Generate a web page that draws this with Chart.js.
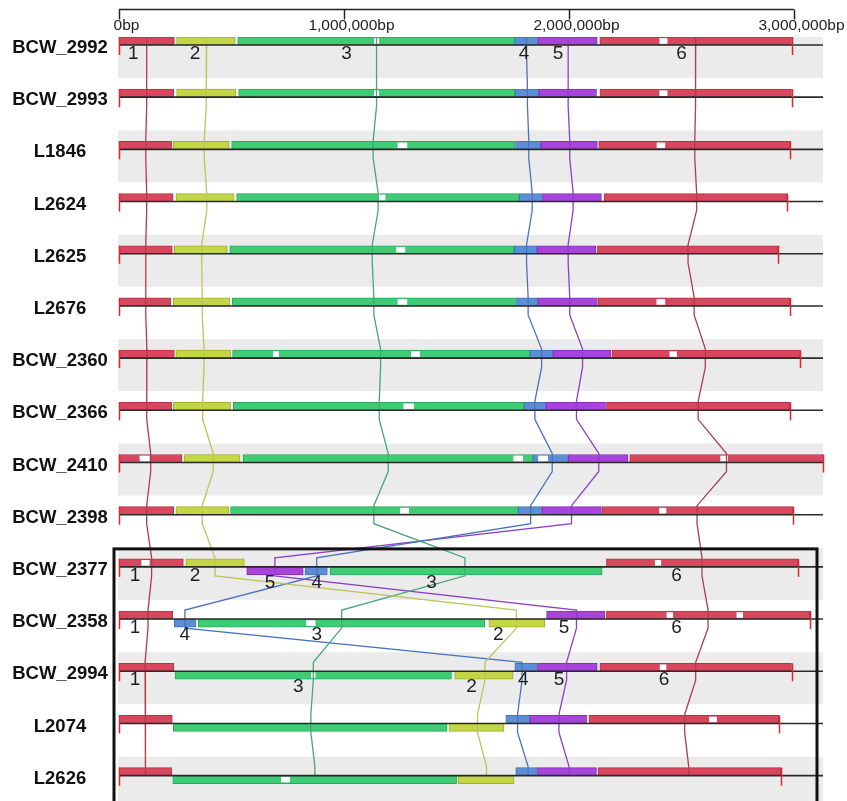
<!DOCTYPE html>
<html>
<head>
<meta charset="utf-8">
<title>LCB alignment</title>
<script src="https://cdn.jsdelivr.net/npm/chart.js@4.4.1/dist/chart.umd.min.js"></script>
<style>
  html, body { margin: 0; padding: 0; background: #fff; }
</style>
</head>
<body>
<canvas id="lcbChart" width="847" height="801"></canvas>
<script>
const GENOMES = ['BCW_2992', 'BCW_2993', 'L1846', 'L2624', 'L2625', 'L2676', 'BCW_2360', 'BCW_2366',
  'BCW_2410', 'BCW_2398', 'BCW_2377', 'BCW_2358', 'BCW_2994', 'L2074', 'L2626'];
const GENOME_KBP = [2990, 2990, 2985, 2970, 2930, 2982, 3026, 2982, 3128, 2997, 3019, 3071, 2990, 2933, 2942];

// block start / end in kbp, one row per genome, columns are LCB 1..6
const BLOCK_START = [
  [0, 256, 528, 1760, 1863, 2138],
  [0, 256, 532, 1760, 1867, 2138],
  [0, 241, 501, 1763, 1875, 2133],
  [0, 253, 523, 1779, 1883, 2157],
  [0, 246, 493, 1757, 1859, 2127],
  [0, 241, 504, 1768, 1863, 2130],
  [0, 253, 505, 1827, 1930, 2192],
  [0, 241, 508, 1801, 1898, 2167],
  [0, 290, 552, 1841, 1997, 2271],
  [0, 253, 496, 1775, 1881, 2148],
  [0, 298, 938, 827, 568, 2167],
  [0, 1644, 352, 246, 1901, 2167],
  [0, 1493, 249, 1760, 1861, 2138],
  [0, 1467, 241, 1720, 1827, 2089],
  [0, 1508, 239, 1764, 1861, 2130]
];
const BLOCK_END = [
  [246, 516, 1760, 1863, 2126, 2990],
  [244, 520, 1760, 1867, 2123, 2990],
  [234, 490, 1760, 1875, 2127, 2985],
  [241, 512, 1779, 1883, 2145, 2970],
  [237, 481, 1757, 1859, 2120, 2930],
  [231, 493, 1767, 1863, 2127, 2982],
  [246, 496, 1827, 1930, 2187, 3026],
  [234, 496, 1801, 1898, 2163, 2982],
  [279, 538, 1841, 1997, 2263, 3128],
  [244, 489, 1775, 1881, 2145, 2997],
  [286, 557, 2148, 926, 819, 3019],
  [239, 1893, 1627, 342, 2160, 3071],
  [244, 1752, 1478, 1861, 2126, 2990],
  [237, 1712, 1459, 1827, 2079, 2933],
  [234, 1757, 1501, 1861, 2123, 2942]
];
// 1 = forward (above the genome line), -1 = reverse (below)
const STRAND = [
  [1, 1, 1, 1, 1, 1], [1, 1, 1, 1, 1, 1], [1, 1, 1, 1, 1, 1], [1, 1, 1, 1, 1, 1],
  [1, 1, 1, 1, 1, 1], [1, 1, 1, 1, 1, 1], [1, 1, 1, 1, 1, 1], [1, 1, 1, 1, 1, 1],
  [1, 1, 1, 1, 1, 1], [1, 1, 1, 1, 1, 1],
  [1, 1, -1, -1, -1, 1],
  [1, -1, -1, -1, 1, 1],
  [1, -1, -1, 1, 1, 1],
  [1, -1, -1, 1, 1, 1],
  [1, -1, -1, 1, 1, 1]
];

// where each LCB's connecting line crosses each genome (kbp)
const LINK_LCB1 = [123, 123, 119, 123, 119, 119, 124, 123, 141, 123, 145, 129, 116, 120, 116];
const LINK_LCB2 = [390, 387, 379, 390, 368, 370, 378, 372, 419, 370, 427, 1767, 1627, 1594, 1634];
const LINK_LCB3 = [1145, 1145, 1130, 1152, 1126, 1133, 1163, 1157, 1197, 1133, 1538, 990, 864, 853, 871];
const LINK_LCB4 = [1812, 1816, 1822, 1837, 1812, 1819, 1879, 1849, 1926, 1830, 879, 293, 1792, 1772, 1819];
const LINK_LCB5 = [1997, 1997, 2004, 2019, 1997, 2004, 2061, 2034, 2133, 2012, 693, 2034, 1990, 1956, 2001];
const LINK_LCB6 = [2564, 2563, 2560, 2568, 2530, 2557, 2607, 2575, 2701, 2570, 2592, 2619, 2564, 2515, 2533];

// unaligned gaps inside blocks (white), kbp
const GAP_ROW = [0, 0, 1, 1, 2, 2, 3, 4, 5, 5, 6, 6, 6, 7, 8, 8, 8, 8, 9, 9, 10, 10, 11, 11, 11, 12, 12, 13, 14];
const GAP_START = [1135, 2404, 1135, 2404, 1240, 2392, 1155, 1234, 1240, 2391, 686, 1300, 2449, 1266,
  93, 1755, 1865, 2675, 1251, 2403, 101, 2384, 833, 2436, 2747, 855, 2406, 2625, 722];
const GAP_END = [1155, 2437, 1155, 2437, 1280, 2427, 1183, 1271, 1280, 2427, 710, 1336, 2479, 1310,
  135, 1795, 1906, 2706, 1288, 2432, 135, 2409, 872, 2462, 2773, 872, 2432, 2657, 758];

// LCB number labels (kbp, in LCB order 1..6) on four genomes
const LABEL_ROWS = [0, 10, 11, 12];
const LABEL_KBP = [
  [64, 338, 1012, 1801, 1952, 2501],
  [71, 338, 1390, 879, 671, 2479],
  [71, 1686, 879, 293, 1979, 2479],
  [71, 1567, 797, 1797, 1956, 2423]
];

const AXIS_TICKS = [0, 1000000, 2000000, 3000000];
const AXIS_LABELS = ['0bp', '1,000,000bp', '2,000,000bp', '3,000,000bp'];
const BOXED_ROW = 10;

const LCB_FILL = ['#d8475d', '#c3d646', '#3ecd74', '#5b8ed6', '#a843dc', '#d8475d'];
const LCB_EDGE = ['#b03446', '#9fb030', '#2ea45c', '#4473b8', '#8530b6', '#b03446'];
const LCB_LINE = ['#b23c4c', '#bcc55c', '#47a77a', '#4a72c2', '#8c3fc8', '#a9404f'];

const KBP = 1000;
const X_MAX = 3130000;
const Y_MIN = -0.153;
const Y_MAX = 14.486;
const PLOT_TOP = 37;
const PX_PER_ROW = (801 - PLOT_TOP) / (Y_MAX - Y_MIN);
const HALF_BAR = 4 / PX_PER_ROW;
const LINK_DY = 9 / PX_PER_ROW;

const LINKS = [LINK_LCB1, LINK_LCB2, LINK_LCB3, LINK_LCB4, LINK_LCB5, LINK_LCB6];

const blockData = [];
const blockFill = [];
const blockEdge = [];
GENOMES.forEach((name, r) => {
  for (let k = 0; k < 6; k += 1) {
    blockData.push({
      x: [BLOCK_START[r][k] * KBP, BLOCK_END[r][k] * KBP],
      y: r - STRAND[r][k] * HALF_BAR
    });
    blockFill.push(LCB_FILL[k]);
    blockEdge.push(LCB_EDGE[k]);
  }
});

function strandAt(r, kbp) {
  for (let k = 0; k < 6; k += 1) {
    if (kbp >= BLOCK_START[r][k] && kbp <= BLOCK_END[r][k]) {
      return STRAND[r][k];
    }
  }
  return 1;
}

const gapData = GAP_ROW.map((r, i) => ({
  x: [GAP_START[i] * KBP, GAP_END[i] * KBP],
  y: r - strandAt(r, GAP_START[i]) * HALF_BAR
}));

const last = GENOMES.length - 1;
const linkSets = LINKS.map((arr, k) => {
  const pts = [];
  arr.forEach((kbp, r) => {
    pts.push({ x: kbp * KBP, y: r - LINK_DY });
    pts.push({ x: kbp * KBP, y: r < last ? r + LINK_DY : r });
  });
  return {
    type: 'scatter',
    data: pts,
    showLine: true,
    borderColor: LCB_LINE[k],
    borderWidth: 1.3,
    pointRadius: 0,
    order: 0
  };
});

const mauvePlugin = {
  id: 'mauve',
  beforeDatasetsDraw(chart) {
    const { ctx, chartArea: a, scales: { y } } = chart;
    ctx.save();
    ctx.beginPath();
    ctx.rect(a.left - 1, a.top, a.width + 1, a.height);
    ctx.clip();
    ctx.fillStyle = '#ebebeb';
    GENOMES.forEach((name, r) => {
      if (r % 2) return;
      const py = y.getPixelForValue(r);
      ctx.fillRect(a.left - 1, py - 19, a.width + 1, 52);
    });
    ctx.restore();
  },
  afterDatasetsDraw(chart) {
    const { ctx, chartArea: a, scales: { x, y } } = chart;
    ctx.save();
    GENOMES.forEach((name, r) => {
      const py = y.getPixelForValue(r);
      ctx.strokeStyle = '#2a2a2a';
      ctx.lineWidth = 1.6;
      ctx.beginPath();
      ctx.moveTo(a.left, py);
      ctx.lineTo(a.right, py);
      ctx.stroke();

      ctx.strokeStyle = '#e5222e';
      ctx.lineWidth = 1.5;
      [0, GENOME_KBP[r] * KBP].forEach((v) => {
        const px = Math.round(x.getPixelForValue(v)) + 0.5;
        ctx.beginPath();
        ctx.moveTo(px, py - 8);
        ctx.lineTo(px, py + 10);
        ctx.stroke();
      });
    });

    ctx.fillStyle = '#1e1e1e';
    ctx.font = '19px "Liberation Sans Narrow", "Liberation Sans", Arial';
    ctx.textAlign = 'center';
    ctx.textBaseline = 'middle';
    LABEL_ROWS.forEach((r, i) => {
      const py = y.getPixelForValue(r);
      LABEL_KBP[i].forEach((kbp, k) => {
        const dy = STRAND[r][k] > 0 ? 9 : 16;
        ctx.fillText(String(k + 1), x.getPixelForValue(kbp * KBP), py + dy);
      });
    });
    ctx.restore();
  },
  afterDraw(chart) {
    const { ctx, chartArea: a, scales: { x, y } } = chart;
    ctx.save();

    // top ruler
    const axisY = 9.5;
    ctx.strokeStyle = '#222';
    ctx.lineWidth = 1.5;
    ctx.beginPath();
    ctx.moveTo(x.getPixelForValue(AXIS_TICKS[0]), axisY);
    ctx.lineTo(x.getPixelForValue(AXIS_TICKS[AXIS_TICKS.length - 1]), axisY);
    ctx.stroke();
    ctx.fillStyle = '#222';
    ctx.font = '15.5px "Liberation Sans", Arial';
    ctx.textAlign = 'center';
    ctx.textBaseline = 'middle';
    AXIS_TICKS.forEach((v, i) => {
      const px = Math.round(x.getPixelForValue(v)) + 0.5;
      ctx.beginPath();
      ctx.moveTo(px, axisY);
      ctx.lineTo(px, axisY + 10);
      ctx.stroke();
      ctx.fillText(AXIS_LABELS[i], px + 7, 26);
    });

    // genome names
    ctx.font = 'bold 18.5px "Liberation Sans", Arial';
    ctx.fillStyle = '#111';
    GENOMES.forEach((name, r) => {
      ctx.fillText(name, 60, y.getPixelForValue(r) + 3);
    });

    // frame around the rearranged genomes
    ctx.strokeStyle = '#111';
    ctx.lineWidth = 3;
    const top = y.getPixelForValue(BOXED_ROW) - 18;
    ctx.strokeRect(a.left - 5, top, a.width - 1, chart.height - top + 10);
    ctx.restore();
  }
};

new Chart(document.getElementById('lcbChart'), {
  type: 'scatter',
  data: {
    datasets: [
      ...linkSets,
      {
        type: 'bar',
        indexAxis: 'y',
        data: gapData,
        backgroundColor: '#ffffff',
        barThickness: 5,
        grouped: false,
        order: 1
      },
      {
        type: 'bar',
        indexAxis: 'y',
        data: blockData,
        backgroundColor: blockFill,
        borderColor: blockEdge,
        borderWidth: 1,
        borderSkipped: false,
        barThickness: 8,
        grouped: false,
        order: 2
      }
    ]
  },
  options: {
    responsive: false,
    animation: false,
    layout: {
      padding: { top: PLOT_TOP, left: 119, right: 24, bottom: 0 }
    },
    plugins: {
      legend: { display: false },
      tooltip: { enabled: false }
    },
    scales: {
      x: { type: 'linear', min: 0, max: X_MAX, display: false, offset: false },
      y: { type: 'linear', min: Y_MIN, max: Y_MAX, reverse: true, display: false, offset: false }
    }
  },
  plugins: [mauvePlugin]
});
</script>
</body>
</html>
